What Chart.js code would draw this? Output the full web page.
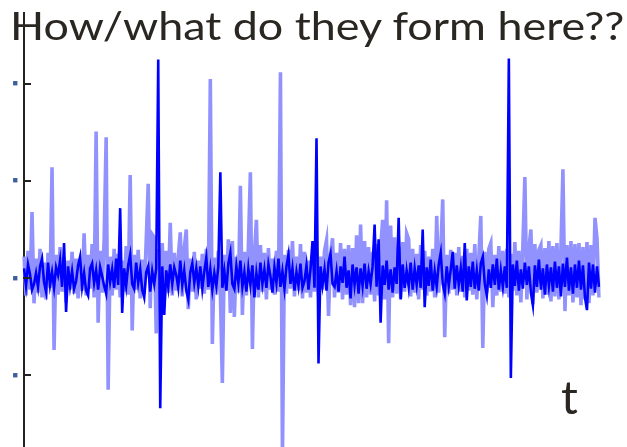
<!DOCTYPE html>
<html>
<head>
<meta charset="utf-8">
<script src="https://cdn.jsdelivr.net/npm/chart.js@4/dist/chart.umd.min.js"></script>
<style>
  html, body { margin: 0; padding: 0; background: #fff; }
  #wrap { position: relative; width: 627px; height: 447px; overflow: hidden; }
  canvas { position: absolute; left: 0; top: 0; }
  .txt { position: absolute; font-family: Lato, sans-serif; color: #2a2722; line-height: 1; white-space: nowrap; }
  #title { left: 10px; top: 6px; font-size: 38px; transform: scaleX(1.18); transform-origin: 0 0; }
  #tlabel { left: 561px; top: 373px; font-size: 47px; }
</style>
</head>
<body>
<div id="wrap">
  <canvas id="myChartCanvas" width="627" height="447"></canvas>
  <div class="txt" id="title">How/what do they form here??</div>
  <div class="txt" id="tlabel">t</div>
</div>
<script>
// signal values, 1 tick = 100 units, samples every ~2px
var dark_values = [
  10, -8, 14, 4, -12, -6, 5, -9, 12, 20, -4, -14, 16, -7, 6, -10, 11, 3, 18, -9, 36, -35, 12, -8,
  7, -11, -3, 13, 22, -9, 5, -13, -18, 10, 15, -5, 8, -12, 11, 2, -8, -16, 14, -4, 9, -10, 20, -7,
  72, -36, 10, -8, 13, 24, -6, -11, 16, -5, 9, -12, -20, 6, 12, -14, 7, -6, 10, 225, -134, 12, -38, 8,
  -9, 14, -6, 11, 3, -10, 18, -7, 8, -13, -22, 6, 15, -5, 10, -8, 12, -11, 7, 21, -9, 9, -12, 5,
  -8, 12, 109, -10, 7, -13, 15, 26, -6, -11, 12, -5, 18, -9, 6, -14, 10, -7, 13, -20, 5, -12, 16, -6,
  9, -10, 14, 2, -15, 11, -5, 20, -9, 7, -11, 12, 24, -6, 10, -13, 6, -8, 15, -10, -3, 13, -12, 9,
  38, -10, 144, -88, 12, -7, 9, -13, 16, 25, -6, -9, 7, -14, 12, -5, 22, -10, 8, -21, 14, -7, 11, -16,
  10, -8, 15, -11, 7, -6, 12, 55, -9, 40, -46, 13, -7, 18, -12, 9, -15, 11, -6, 62, -22, 14, -10, 8,
  -9, 16, -12, 10, -7, 13, -10, 50, -30, 11, -8, 19, -13, 7, -9, 14, 26, -6, -16, 12, -8, 9, 27, -11,
  13, -7, 10, -14, 36, -23, 12, -9, 17, -11, 8, -13, 15, 22, -6, -18, 9, -10, 14, -7, 20, -12, 8, -9,
  12, -10, 226, -103, 14, -8, 18, -13, 9, -11, 16, -7, 12, -15, -28, 13, -9, 19, -12, 10, -17, 14, -8, 11,
  -14, 17, -10, 12, -19, 15, -9, 21, -13, 11, -16, 14, -10, 18, -12, 13, -20, -33, 16, -11, 14, -15, 12, -9
];

var light_values = [
  22, -18, 28, -12, 68, -26, 20, -15, 30, -20, 16, -22, 26, -10, 114, -74, 24, -17, 32, -14, 21, -25, 18, -12,
  27, -16, 20, -21, 15, -13, 46, -18, 24, -11, 35, -20, 151, -46, 28, -15, 40, 145, -115, 22, -18, 30, -12, 25,
  -20, 18, -14, 33, -17, 106, -54, 24, -12, 29, -21, 19, -16, 38, 97, -31, 45, 42, -57, 30, -20, 36, -24, 28,
  -15, 57, -18, 26, -13, 22, 47, -19, 31, 50, -32, 20, -14, 27, -22, 18, -11, 25, -16, 30, -12, 205, -68, 21,
  -17, 28, -14, -108, 24, -13, 40, -36, 38, -40, 22, -15, 95, -38, 27, -18, 33, 109, -73, 25, 60, -20, 34, -14,
  26, -22, 31, -12, 20, -17, 28, -14, 212, -185, 24, -16, 29, -11, 38, -19, 22, -13, 35, -21, 27, -15, 18, -20,
  25, -14, 30, -18, 22, -12, 28, 39, -39, 24, 41, -20, 26, -15, 36, -22, 30, -17, 34, -28, 31, -30, 44, -26,
  55, -26, 38, -20, 32, -17, 27, -24, 35, -18, 30, 60, -22, 80, -67, 54, -20, 42, -16, 33, -21, 37, -14, 46,
  40, -19, 30, -15, 25, -22, 34, -12, 28, -18, 22, -14, 30, -20, 64, -15, 27, 81, -61, 24, -16, 29, -12, 26,
  -18, 32, -14, 23, -20, 30, -13, 26, -17, 35, -22, 21, 64, -72, 27, -15, 30, 36, -30, 24, -18, 33, -14, 28,
  -16, 30, -20, 25, -13, 37, -18, 28, -25, 33, 104, -22, 30, 50, -27, 35, -15, 29, 34, -21, 31, -17, 38, -24,
  33, -19, 36, -22, 30, 112, -34, 34, -18, 38, -25, 35, -20, 36, -28, 32, -22, 37, -26, 34, -18, 62, 41, -20
];

var y_ticks = [-100, 0, 100, 200];
var y_min = -174;
var y_max = 273;

var sample_labels = [];
for (let i = 0; i < dark_values.length; i++) {
    sample_labels.push(i);
}

// short tick marks on the inner side of the y axis
var inner_ticks = {
    id: 'inner_ticks',
    afterDraw: function(chart) {
        let ctx = chart.ctx;
        let y = chart.scales.y;
        let left = chart.chartArea.left;
        ctx.save();
        ctx.strokeStyle = '#222';
        ctx.lineWidth = 2;
        for (let i = 0; i < y_ticks.length; i++) {
            let py = Math.round(y.getPixelForValue(y_ticks[i]));
            ctx.beginPath();
            ctx.moveTo(left - 1, py);
            ctx.lineTo(left + 7, py);
            ctx.stroke();
        }
        ctx.restore();
    }
};

var signal_chart = new Chart(document.getElementById('myChartCanvas'), {
    type: 'line',
    data: {
        labels: sample_labels,
        datasets: [{
            label: 'dark',
            data: dark_values,
            borderColor: '#0000ff',
            borderWidth: 2.6,
            pointRadius: 0,
            tension: 0,
            order: 0
        }, {
            label: 'light',
            data: light_values,
            borderColor: '#9292ff',
            borderWidth: 3.6,
            pointRadius: 0,
            tension: 0,
            order: 1
        }]
    },
    options: {
        responsive: false,
        animation: false,
        layout: {
            padding: { left: 0, right: 28, top: 13, bottom: 0 }
        },
        scales: {
            x: {
                display: false,
                offset: false
            },
            y: {
                min: y_min,
                max: y_max,
                afterBuildTicks: function(scale) {
                    scale.ticks = y_ticks.map(v => ({ value: v }));
                },
                afterFit: function(scale) {
                    // fixed axis width, no extra label padding top/bottom
                    scale.width = 24;
                    scale.paddingTop = 0;
                    scale.paddingBottom = 0;
                },
                border: {
                    display: true,
                    color: '#222',
                    width: 2
                },
                grid: {
                    drawOnChartArea: false,
                    drawTicks: false
                },
                ticks: {
                    padding: 6,
                    color: '#3d5f9e',
                    font: { size: 9 },
                    callback: function(value) {
                        return '■';
                    }
                }
            }
        },
        plugins: {
            legend: { display: false },
            tooltip: { enabled: false }
        }
    },
    plugins: [inner_ticks]
});
</script>
</body>
</html>
